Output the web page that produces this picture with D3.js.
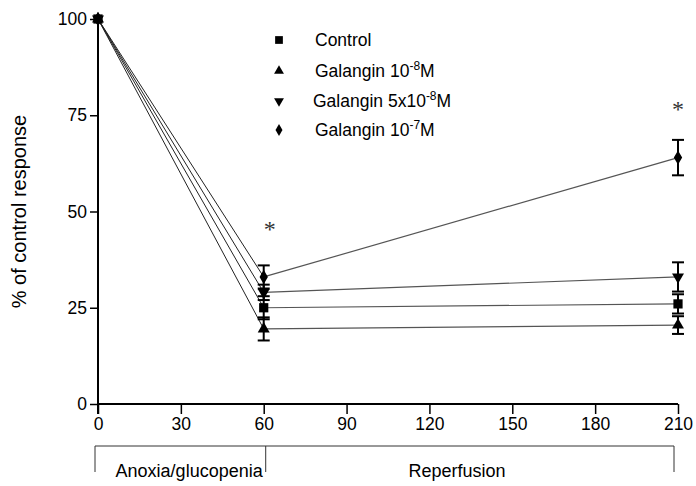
<!DOCTYPE html>
<html>
<head>
<meta charset="utf-8">
<script src="https://cdn.jsdelivr.net/npm/d3@7"></script>
<style>
  body { margin: 0; background: #fff; }
  text { font-family: "Liberation Sans", Arial, sans-serif; fill: #000; }
</style>
</head>
<body>
<svg id="viz" width="696" height="486"></svg>
<script>
// Data
const times     = [0, 60, 210];
const xTicks    = [0, 30, 60, 90, 120, 150, 180, 210];
const yTicks    = [0, 25, 50, 75, 100];

const control   = [100, 25, 26];
const controlSE = [0, 3, 2.5];
const gal1e8    = [100, 19.5, 20.5];
const gal1e8SE  = [0, 3, 2.3];
const gal5e8    = [100, 29, 33];
const gal5e8SE  = [0, 2, 3.8];
const gal1e7    = [100, 33, 64];
const gal1e7SE  = [0, 3, 4.6];

const phases = [
  { name: 'Anoxia/glucopenia', from: 0,  to: 60,  labelAt: 33 },
  { name: 'Reperfusion',       from: 60, to: 210, labelAt: 130 }
];
const starsAt = [{ t: 60, v: 43.5 }, { t: 210, v: 74.6 }];

const series = [
  { name: 'gal1e7', vals: gal1e7, se: gal1e7SE, sym: d3.symbolDiamond, size: 60 },
  { name: 'gal5e8', vals: gal5e8, se: gal5e8SE, sym: 'down', size: 62 },
  { name: 'gal1e8', vals: gal1e8, se: gal1e8SE, sym: d3.symbolTriangle, size: 62 },
  { name: 'control', vals: control, se: controlSE, sym: d3.symbolSquare, size: 85 }
];

const svg = d3.select('#viz');
const x = d3.scaleLinear().domain([0, 210]).range([98, 678]);
const y = d3.scaleLinear().domain([0, 100]).range([404, 19]);

// Axes
const yAxis = svg.append('g')
  .attr('transform', `translate(${x(0)},0)`)
  .call(d3.axisLeft(y).tickValues(yTicks).tickSize(8).tickPadding(3));
yAxis.select('.domain').attr('d', `M0,${y(100)}V${y(0) + 10}`).attr('stroke-width', 2);
yAxis.selectAll('.tick line').attr('stroke-width', 1.5);
yAxis.selectAll('text').style('font-size', '17.5px').attr('font-family', null);

const xAxis = svg.append('g')
  .attr('transform', `translate(0,${y(0)})`)
  .call(d3.axisBottom(x).tickValues(xTicks).tickSize(10).tickPadding(4).tickSizeOuter(0));
xAxis.select('.domain').attr('d', `M${x(0)},0H${x(210)}`).attr('stroke-width', 2);
xAxis.selectAll('.tick line').attr('stroke-width', 1.5);
xAxis.selectAll('text').style('font-size', '17.5px').attr('font-family', null);

svg.append('text')
  .attr('transform', `translate(26,${y(50)}) rotate(-90)`)
  .attr('text-anchor', 'middle')
  .style('font-size', '20px')
  .text('% of control response');

// Phase bracket below the axis
const brY = 446;
svg.append('line')
  .attr('x1', x(0) - 3).attr('x2', x(210) - 4)
  .attr('y1', brY).attr('y2', brY)
  .attr('stroke', '#333').attr('stroke-width', 1);
[0, 60, 210].forEach(t => {
  svg.append('line')
    .attr('x1', x(t) + (t === 0 ? -3 : t === 60 ? 2 : -4))
    .attr('x2', x(t) + (t === 0 ? -3 : t === 60 ? 2 : -4))
    .attr('y1', brY).attr('y2', brY + 26)
    .attr('stroke', '#333').attr('stroke-width', 1);
});
svg.selectAll('.phase')
  .data(phases)
  .join('text')
  .attr('class', 'phase')
  .attr('x', d => x(d.labelAt))
  .attr('y', 477)
  .attr('text-anchor', 'middle')
  .style('font-size', '18px')
  .text(d => d.name);

// Lines
const line = d3.line().x(d => x(d[0])).y(d => y(d[1]));
series.forEach(s => {
  svg.append('path')
    .attr('d', line([[times[0], s.vals[0]], [times[1], s.vals[1]]]))
    .attr('fill', 'none').attr('stroke', '#222').attr('stroke-width', 1);
  svg.append('path')
    .attr('d', line([[times[1], s.vals[1]], [times[2], s.vals[2]]]))
    .attr('fill', 'none').attr('stroke', '#555').attr('stroke-width', 1.2);
});

// Error bars
series.forEach(s => {
  s.vals.forEach((v, i) => {
    if (!s.se[i]) return;
    const cx = x(times[i]);
    const g = svg.append('g').attr('stroke', '#000').attr('stroke-width', 2);
    g.append('line').attr('x1', cx).attr('x2', cx)
      .attr('y1', y(v + s.se[i])).attr('y2', y(v - s.se[i]));
    [v + s.se[i], v - s.se[i]].forEach(e => {
      g.append('line').attr('x1', cx - 6).attr('x2', cx + 6)
        .attr('y1', y(e)).attr('y2', y(e));
    });
  });
});

// Markers
function symbolPath(sym, size) {
  if (sym === 'down') return d3.symbol(d3.symbolTriangle, size)();
  return d3.symbol(sym, size)();
}
series.forEach(s => {
  s.vals.forEach((v, i) => {
    svg.append('path')
      .attr('d', symbolPath(s.sym, s.size))
      .attr('transform', `translate(${x(times[i])},${y(v)})${s.sym === 'down' ? ' rotate(180)' : ''}`)
      .attr('fill', '#000');
  });
});

// Significance stars
svg.selectAll('.star')
  .data(starsAt)
  .join('text')
  .attr('class', 'star')
  .attr('x', d => x(d.t) + (d.t === 60 ? 6 : 0))
  .attr('y', d => y(d.v))
  .attr('text-anchor', 'middle')
  .style('font-family', '"Liberation Serif", serif')
  .style('font-size', '24px')
  .style('fill', '#333')
  .text('*');

// Legend
const legendRows = [
  { sym: d3.symbolSquare, size: 60, parts: [['Control', null]] },
  { sym: d3.symbolTriangle, size: 42, parts: [['Galangin 10', null], ['-8', 'sup'], ['M', null]] },
  { sym: 'down', size: 42, parts: [['Galangin 5x10', null], ['-8', 'sup'], ['M', null]] },
  { sym: d3.symbolDiamond, size: 42, parts: [['Galangin 10', null], ['-7', 'sup'], ['M', null]] }
];
const legendY = [40, 71, 101, 130];
legendRows.forEach((r, i) => {
  svg.append('path')
    .attr('d', symbolPath(r.sym, r.size))
    .attr('transform', `translate(279,${legendY[i]})${r.sym === 'down' ? ' rotate(180)' : ''}`)
    .attr('fill', '#000');
  const t = svg.append('text')
    .attr('x', i === 2 ? 313 : 315)
    .attr('y', legendY[i] + 6)
    .style('font-size', '17.5px');
  r.parts.forEach(([txt, kind]) => {
    const ts = t.append('tspan').text(txt);
    if (kind === 'sup') ts.attr('dy', -7).style('font-size', '12px');
    else if (t.selectAll('tspan').size() > 1) ts.attr('dy', 7);
  });
});
</script>
</body>
</html>
